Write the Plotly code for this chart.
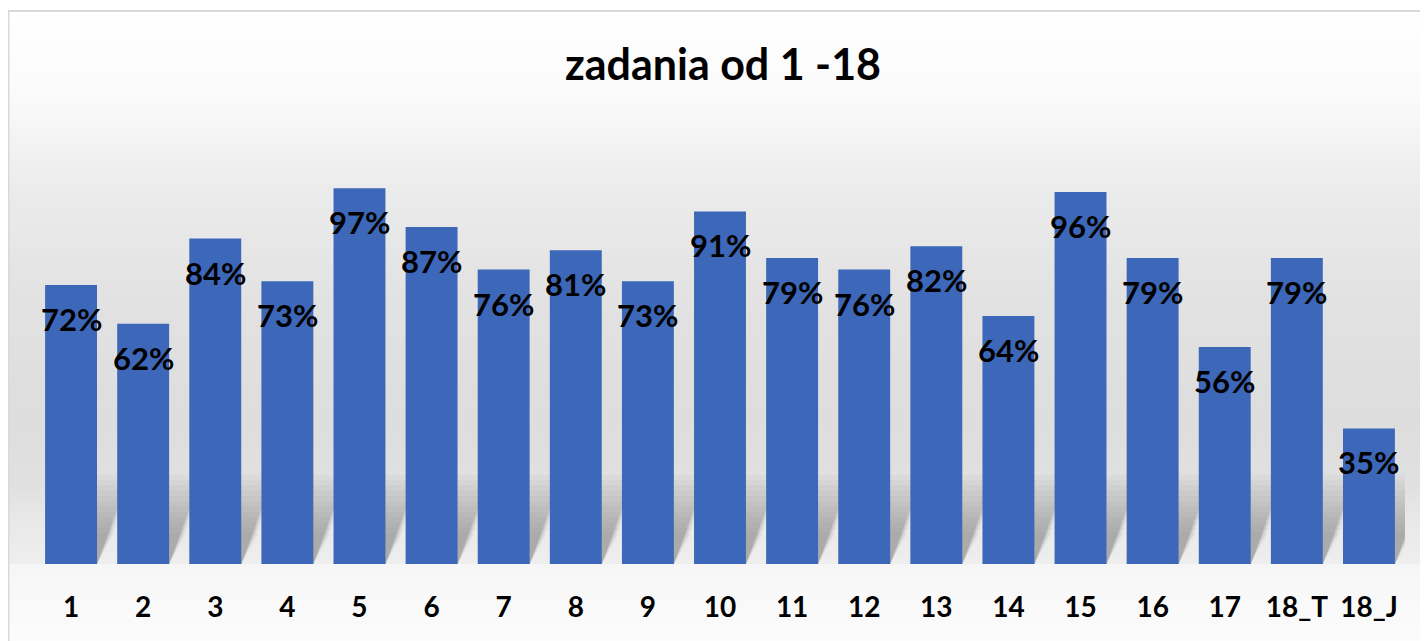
"""Excel-style column chart: zadania od 1 -18."""

import plotly.graph_objects as go

categories = ["1", "2", "3", "4", "5", "6", "7", "8", "9", "10",
              "11", "12", "13", "14", "15", "16", "17", "18_T", "18_J"]
values = [0.72, 0.62, 0.84, 0.73, 0.97, 0.87, 0.76, 0.81, 0.73, 0.91,
          0.79, 0.76, 0.82, 0.64, 0.96, 0.79, 0.56, 0.79, 0.35]

# page has an 8px body margin, so the figure is 8px smaller than the window
W, H = 1420, 633
L, R, T, B = 26.5, 23, 91, 77
BAR_W = 0.72
FONT = "Lato, 'Open Sans', sans-serif"

idx = list(range(len(categories)))

# background gradient, (pixel y, grey level) stops
bg_stops = [(3, 255), (92, 250), (182, 235), (292, 226), (412, 221),
            (472, 224), (512, 232), (556, 238)]
floor_stops = [(556, 246), (633, 252)]


def py2paper(py):
    return (H - B - py) / (H - T - B)


def px2paper(px):
    return (px - L) / (W - L - R)


def strips(stops, n):
    out = []
    y0, y1 = stops[0][0], stops[-1][0]
    step = (y1 - y0) / n
    for k in range(n):
        a = y0 + k * step
        m = a + step / 2
        for (sa, ga), (sb, gb) in zip(stops, stops[1:]):
            if sa <= m <= sb:
                g = ga + (gb - ga) * (m - sa) / (sb - sa)
                break
        g = int(round(g))
        out.append(dict(type="rect", xref="paper", yref="paper", layer="below",
                        x0=px2paper(0), x1=px2paper(W + 2),
                        y0=py2paper(a + step + 0.6), y1=py2paper(a),
                        fillcolor=f"rgb({g},{g},{g})", line=dict(width=0)))
    return out


shapes = strips(bg_stops, 110) + strips(floor_stops, 14)

# soft cast shadows behind each column, stacked thin layers fake the blur
n_layers = 12
for i in idx:
    for k in range(n_layers):
        f = k / (n_layers - 1)
        h = 0.23 - 0.15 * f
        dx = 0.44 - 0.2 * f
        xl, xr = i - BAR_W / 2, i + BAR_W / 2
        path = f"M {xl},0 L {xr},0 L {xr + dx},{h} L {xl + dx},{h} Z"
        shapes.append(dict(type="path", xref="x", yref="y", layer="below", path=path,
                           fillcolor="rgba(80,80,80,0.04)", line=dict(width=0)))

# chart border
shapes.append(dict(type="rect", xref="paper", yref="paper", layer="above",
                   x0=px2paper(0), x1=px2paper(W + 5), y0=py2paper(H + 5), y1=py2paper(3),
                   fillcolor="rgba(0,0,0,0)", line=dict(color="#d9d9d9", width=2)))

fig = go.Figure(
    go.Bar(
        x=idx,
        y=values,
        width=BAR_W,
        marker=dict(color="#3d67b9", line=dict(width=0)),
        hovertemplate="%{y:.0%}<extra></extra>",
    )
)

for i, v in zip(idx, values):
    fig.add_annotation(x=i, y=v, text=f"<b>{v:.0%}</b>", showarrow=False,
                       yanchor="top", yshift=-13,
                       font=dict(family=FONT, size=31, color="#000000"))

fig.update_layout(
    width=W,
    height=H,
    paper_bgcolor="#ffffff",
    plot_bgcolor="rgba(0,0,0,0)",
    margin=dict(l=L, r=R, t=T, b=B, autoexpand=False),
    showlegend=False,
    shapes=shapes,
    title=dict(text="<b>zadania od 1 -18</b>", x=0.5035, xanchor="center",
               y=1 - 57 / H, yanchor="middle",
               font=dict(family=FONT, size=43, color="#000000")),
    xaxis=dict(range=[-0.5, len(categories) - 0.5], tickvals=idx, ticktext=categories,
               showgrid=False, zeroline=False, showline=False, ticks="",
               ticklabelstandoff=24,
               tickfont=dict(family=FONT, size=28, color="#000000", weight="bold")),
    yaxis=dict(range=[0, 1.2], visible=False, showgrid=False, zeroline=False),
)

fig.write_html("out.html")
